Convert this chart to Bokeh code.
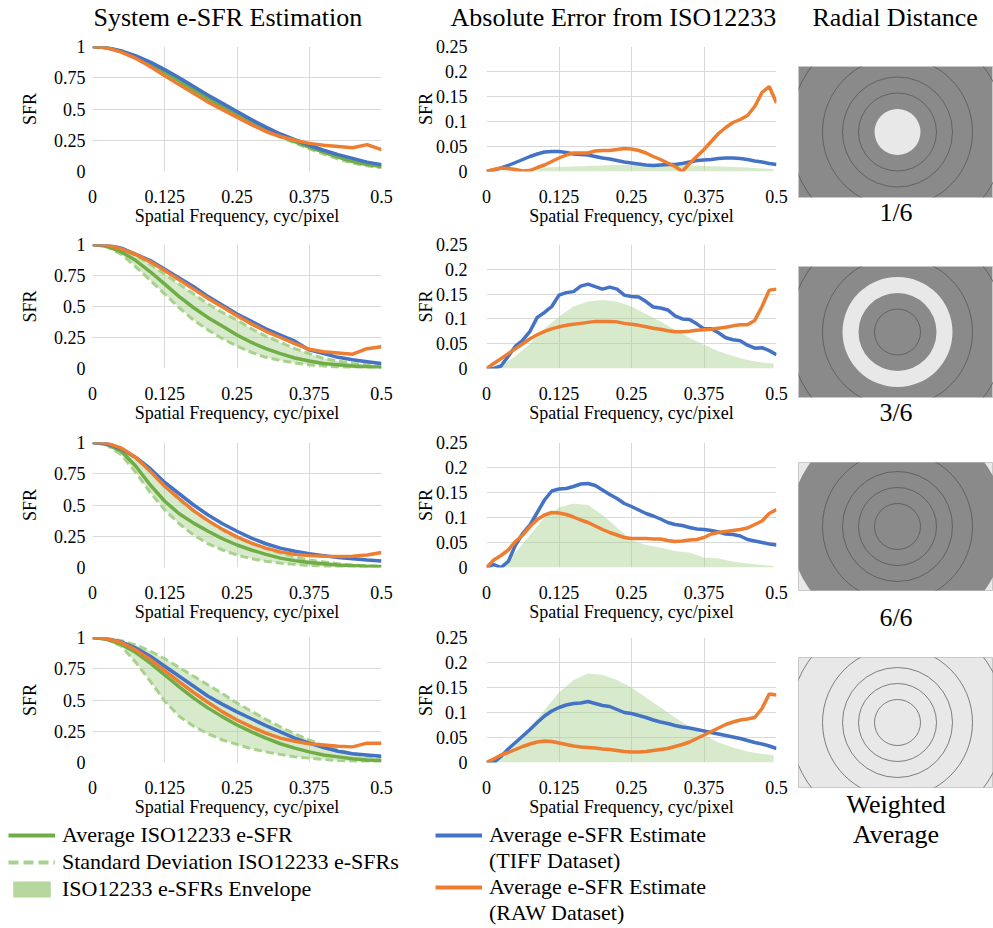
from bokeh.plotting import figure
from bokeh.models import (Range1d, FixedTicker, NumeralTickFormatter, Title,
                          Legend, LegendItem)
from bokeh.layouts import row, column
from bokeh.embed import file_html
from bokeh.resources import INLINE

FONT = "Liberation Serif"
BLUE = "#4472C4"
ORANGE = "#ED7D31"
GREEN = "#70AD47"
LIGHT_GREEN = "#A9D18E"
GRID = "#D9D9D9"
DARK_GRAY = "#8A8A8A"
LIGHT_GRAY = "#E8E8E8"
RING_LINE = "#505050"

# ---------------- data ----------------
freq = [0, 0.025, 0.05, 0.075, 0.1, 0.125, 0.15, 0.175, 0.2, 0.225, 0.25,
        0.275, 0.3, 0.325, 0.35, 0.375, 0.4, 0.425, 0.45, 0.475, 0.5]
freq_fine = [0, 0.0125, 0.025, 0.0375, 0.05, 0.0625, 0.075, 0.0875, 0.1, 0.1125,
             0.125, 0.1375, 0.15, 0.1625, 0.175, 0.1875, 0.2, 0.2125, 0.225, 0.2375,
             0.25, 0.2625, 0.275, 0.2875, 0.3, 0.3125, 0.325, 0.3375, 0.35, 0.3625,
             0.375, 0.3875, 0.4, 0.4125, 0.425, 0.4375, 0.45, 0.4625, 0.475, 0.4875, 0.5]
freq_env = [0, 0.025, 0.05, 0.075, 0.1, 0.125, 0.15, 0.175, 0.2, 0.225, 0.25,
            0.275, 0.3, 0.325, 0.35, 0.375, 0.4, 0.425, 0.45, 0.475, 0.495]

x_ticks = [0, 0.125, 0.25, 0.375, 0.5]
sfr_ticks = [0, 0.25, 0.5, 0.75, 1]
err_ticks = [0, 0.05, 0.1, 0.15, 0.2, 0.25]

column_titles = ["System e-SFR Estimation", "Absolute Error from ISO12233", "Radial Distance"]

# Column 1: system e-SFR estimation (rows = radial distance 1/6, 3/6, 6/6, weighted)
iso_avg_1 = [1.0, 0.99, 0.96, 0.915, 0.86, 0.795, 0.725, 0.655, 0.585, 0.52, 0.455,
             0.39, 0.335, 0.285, 0.24, 0.195, 0.155, 0.115, 0.08, 0.055, 0.04]
iso_hi_1 = [1.0, 0.99, 0.965, 0.925, 0.87, 0.805, 0.735, 0.665, 0.595, 0.53, 0.465,
            0.4, 0.345, 0.295, 0.25, 0.205, 0.165, 0.125, 0.09, 0.065, 0.05]
iso_lo_1 = [1.0, 0.99, 0.955, 0.905, 0.85, 0.785, 0.715, 0.645, 0.575, 0.51, 0.445,
            0.38, 0.325, 0.275, 0.228, 0.182, 0.14, 0.1, 0.068, 0.045, 0.03]
tiff_1 = [1.0, 0.99, 0.965, 0.925, 0.875, 0.815, 0.75, 0.68, 0.61, 0.545, 0.48,
          0.415, 0.355, 0.3, 0.255, 0.21, 0.17, 0.135, 0.105, 0.075, 0.055]
raw_1 = [1.0, 0.99, 0.955, 0.905, 0.84, 0.765, 0.695, 0.625, 0.555, 0.495, 0.435,
         0.375, 0.32, 0.28, 0.25, 0.225, 0.21, 0.2, 0.19, 0.215, 0.175]

iso_avg_2 = [1.0, 0.985, 0.94, 0.87, 0.78, 0.68, 0.58, 0.49, 0.41, 0.34, 0.27,
             0.21, 0.16, 0.12, 0.085, 0.06, 0.04, 0.03, 0.02, 0.015, 0.01]
iso_hi_2 = [1.0, 0.99, 0.96, 0.91, 0.84, 0.76, 0.68, 0.6, 0.52, 0.45, 0.39,
            0.32, 0.26, 0.21, 0.16, 0.12, 0.08, 0.06, 0.04, 0.03, 0.02]
iso_lo_2 = [1.0, 0.98, 0.92, 0.82, 0.71, 0.6, 0.49, 0.39, 0.31, 0.24, 0.18,
            0.13, 0.09, 0.065, 0.045, 0.03, 0.02, 0.01, 0.005, 0.0, 0.0]
tiff_2 = [1.0, 0.995, 0.97, 0.92, 0.87, 0.8, 0.73, 0.66, 0.58, 0.51, 0.44,
          0.38, 0.32, 0.27, 0.22, 0.15, 0.12, 0.09, 0.07, 0.055, 0.04]
raw_2 = [1.0, 0.995, 0.965, 0.92, 0.86, 0.79, 0.715, 0.64, 0.565, 0.495, 0.425,
         0.36, 0.3, 0.25, 0.2, 0.155, 0.135, 0.125, 0.115, 0.16, 0.175]

iso_avg_3 = [1.0, 0.985, 0.93, 0.81, 0.66, 0.53, 0.43, 0.355, 0.29, 0.23, 0.18,
             0.14, 0.105, 0.075, 0.055, 0.04, 0.03, 0.02, 0.015, 0.01, 0.008]
iso_hi_3 = [1.0, 0.99, 0.95, 0.87, 0.77, 0.65, 0.54, 0.45, 0.37, 0.3, 0.24,
            0.19, 0.15, 0.115, 0.085, 0.06, 0.045, 0.03, 0.02, 0.015, 0.01]
iso_lo_3 = [1.0, 0.98, 0.9, 0.76, 0.6, 0.46, 0.35, 0.26, 0.19, 0.14, 0.1,
            0.07, 0.05, 0.035, 0.025, 0.015, 0.01, 0.005, 0.0, 0.0, 0.0]
tiff_3 = [1.0, 0.99, 0.95, 0.88, 0.79, 0.68, 0.59, 0.5, 0.42, 0.35, 0.29,
          0.235, 0.19, 0.155, 0.13, 0.11, 0.095, 0.08, 0.07, 0.06, 0.052]
raw_3 = [1.0, 0.995, 0.955, 0.88, 0.77, 0.65, 0.55, 0.455, 0.375, 0.305, 0.245,
         0.195, 0.155, 0.125, 0.105, 0.095, 0.09, 0.088, 0.09, 0.1, 0.12]

iso_avg_4 = [1.0, 0.985, 0.945, 0.88, 0.795, 0.7, 0.605, 0.515, 0.435, 0.365, 0.3,
             0.245, 0.195, 0.15, 0.115, 0.085, 0.06, 0.045, 0.03, 0.02, 0.015]
iso_hi_4 = [1.0, 0.995, 0.975, 0.94, 0.89, 0.83, 0.76, 0.69, 0.62, 0.55, 0.475,
            0.41, 0.345, 0.285, 0.23, 0.18, 0.135, 0.1, 0.07, 0.05, 0.035]
iso_lo_4 = [1.0, 0.985, 0.93, 0.8, 0.65, 0.49, 0.37, 0.29, 0.23, 0.18, 0.145,
            0.11, 0.085, 0.065, 0.045, 0.035, 0.025, 0.015, 0.01, 0.005, 0.0]
tiff_4 = [1.0, 0.99, 0.965, 0.915, 0.85, 0.77, 0.69, 0.61, 0.53, 0.465, 0.405,
          0.35, 0.295, 0.245, 0.195, 0.155, 0.12, 0.09, 0.07, 0.06, 0.05]
raw_4 = [1.0, 0.99, 0.96, 0.9, 0.825, 0.735, 0.645, 0.56, 0.48, 0.405, 0.34,
         0.285, 0.235, 0.195, 0.17, 0.15, 0.14, 0.13, 0.125, 0.155, 0.155]

# Column 2: absolute error from ISO12233
env_err_1 = [0, 0.002, 0.004, 0.006, 0.008, 0.009, 0.01, 0.011, 0.012, 0.013, 0.013,
             0.013, 0.013, 0.012, 0.012, 0.011, 0.01, 0.009, 0.008, 0.006, 0.005]
tiff_err_1 = [0, 0.003, 0.007, 0.012, 0.018, 0.024, 0.03, 0.035, 0.039, 0.04, 0.04,
              0.038, 0.035, 0.034, 0.033, 0.03, 0.027, 0.025, 0.022, 0.019, 0.017,
              0.015, 0.013, 0.012, 0.013, 0.014, 0.014, 0.016, 0.019, 0.022, 0.023,
              0.024, 0.026, 0.027, 0.027, 0.026, 0.024, 0.021, 0.019, 0.016, 0.014]
raw_err_1 = [0, 0.004, 0.007, 0.006, 0.004, 0.001, 0.002, 0.008, 0.013, 0.02, 0.027,
             0.033, 0.037, 0.037, 0.037, 0.041, 0.042, 0.042, 0.044, 0.046, 0.045,
             0.042, 0.037, 0.03, 0.024, 0.017, 0.01, 0.0, 0.016, 0.03, 0.044,
             0.06, 0.076, 0.088, 0.098, 0.104, 0.112, 0.13, 0.158, 0.17, 0.137]

env_err_2 = [0, 0.005, 0.025, 0.05, 0.08, 0.105, 0.125, 0.135, 0.138, 0.135, 0.125,
             0.11, 0.095, 0.078, 0.062, 0.048, 0.035, 0.025, 0.017, 0.012, 0.01]
tiff_err_2 = [0, 0.0, 0.005, 0.025, 0.045, 0.057, 0.075, 0.103, 0.113, 0.125, 0.148,
              0.153, 0.155, 0.166, 0.17, 0.165, 0.16, 0.164, 0.16, 0.148, 0.145,
              0.144, 0.135, 0.124, 0.122, 0.118, 0.106, 0.1, 0.099, 0.09, 0.08,
              0.08, 0.072, 0.062, 0.058, 0.056, 0.047, 0.041, 0.042, 0.036, 0.028]
raw_err_2 = [0, 0.01, 0.02, 0.03, 0.04, 0.05, 0.06, 0.068, 0.075, 0.08, 0.084,
             0.087, 0.089, 0.091, 0.093, 0.095, 0.095, 0.095, 0.094, 0.091, 0.089,
             0.087, 0.084, 0.081, 0.079, 0.076, 0.074, 0.074, 0.075, 0.077, 0.078,
             0.079, 0.081, 0.083, 0.086, 0.088, 0.088, 0.097, 0.125, 0.158, 0.16]

env_err_3 = [0, 0.005, 0.03, 0.065, 0.1, 0.12, 0.128, 0.125, 0.105, 0.08, 0.055,
             0.045, 0.04, 0.033, 0.03, 0.02, 0.018, 0.012, 0.008, 0.005, 0.003]
tiff_err_3 = [0, 0.006, 0.0, 0.012, 0.045, 0.068, 0.085, 0.11, 0.135, 0.153, 0.157,
              0.158, 0.162, 0.167, 0.168, 0.164, 0.155, 0.146, 0.138, 0.128, 0.122,
              0.115, 0.108, 0.103, 0.097, 0.09, 0.086, 0.084, 0.08, 0.077, 0.076,
              0.074, 0.071, 0.067, 0.066, 0.063, 0.056, 0.053, 0.05, 0.047, 0.045]
raw_err_3 = [0, 0.015, 0.024, 0.035, 0.052, 0.065, 0.082, 0.096, 0.105, 0.11, 0.109,
             0.106, 0.101, 0.095, 0.09, 0.083, 0.076, 0.07, 0.065, 0.06, 0.058,
             0.058, 0.058, 0.057, 0.057, 0.054, 0.052, 0.053, 0.055, 0.056, 0.06,
             0.067, 0.07, 0.072, 0.074, 0.076, 0.079, 0.086, 0.093, 0.108, 0.116]

env_err_4 = [0, 0.008, 0.035, 0.07, 0.105, 0.14, 0.165, 0.178, 0.175, 0.165, 0.15,
             0.13, 0.11, 0.09, 0.072, 0.055, 0.04, 0.03, 0.022, 0.017, 0.015]
tiff_err_4 = [0, 0.0, 0.012, 0.027, 0.04, 0.053, 0.066, 0.08, 0.093, 0.103, 0.11,
              0.115, 0.118, 0.119, 0.122, 0.118, 0.114, 0.112, 0.106, 0.1, 0.098,
              0.094, 0.09, 0.085, 0.081, 0.078, 0.074, 0.071, 0.069, 0.066, 0.063,
              0.06, 0.057, 0.054, 0.051, 0.048, 0.044, 0.04, 0.037, 0.033, 0.028]
raw_err_4 = [0, 0.007, 0.015, 0.02, 0.026, 0.032, 0.037, 0.041, 0.043, 0.042, 0.039,
             0.036, 0.033, 0.031, 0.03, 0.029, 0.027, 0.026, 0.024, 0.022, 0.021,
             0.021, 0.022, 0.024, 0.026, 0.028, 0.032, 0.036, 0.041, 0.048, 0.055,
             0.062, 0.069, 0.076, 0.081, 0.085, 0.087, 0.09, 0.108, 0.137, 0.135]

# Column 3: radial distance zones (ring boundaries, image units)
ring_radii = [23, 39, 55, 75, 108]
zone_labels = ["1/6", "3/6", "6/6", "Weighted Average"]

# ---------------- layout constants ----------------
TITLE_H = 36
# per row: (top border, frame height, bottom border)
row_geom = [(10, 125, 60), (13, 124, 60), (14, 125, 59), (11, 125, 58)]
img_geom = [(30, 131, 35), (34, 131, 35), (30, 130, 49), (16, 130, 63)]
img_label_standoff = [-4, -4, 20, 0]


def base_style(p, yticks, ylab_standoff, yaxis_label_standoff):
    p.xaxis.ticker = FixedTicker(ticks=x_ticks)
    p.yaxis.ticker = FixedTicker(ticks=yticks)
    p.axis.formatter = NumeralTickFormatter(format="0.[000]")
    p.axis.axis_line_color = None
    p.axis.major_tick_line_color = None
    p.axis.minor_tick_line_color = None
    p.axis.major_tick_out = 0
    p.axis.major_tick_in = 0
    p.axis.major_label_text_font = FONT
    p.axis.major_label_text_font_size = "18px"
    p.axis.major_label_text_color = "#000000"
    p.axis.axis_label_text_font = FONT
    p.axis.axis_label_text_font_size = "18px"
    p.axis.axis_label_text_font_style = "normal"
    p.axis.axis_label_text_color = "#000000"
    p.xaxis.axis_label = "Spatial Frequency, cyc/pixel"
    p.xaxis.major_label_standoff = 18
    p.xaxis.axis_label_standoff = 0
    p.yaxis.axis_label = "SFR"
    p.yaxis.major_label_standoff = ylab_standoff
    p.yaxis.axis_label_standoff = yaxis_label_standoff
    p.grid.grid_line_color = GRID
    p.grid.grid_line_width = 1
    p.outline_line_color = None


def make_fig(width, geom, left, right, y_end):
    top, fh, bottom = geom
    return figure(width=width, height=top + fh + bottom,
                  x_range=Range1d(0, 0.5), y_range=Range1d(0, y_end),
                  min_border_left=left, min_border_right=right,
                  min_border_top=top, min_border_bottom=bottom,
                  toolbar_location=None, tools="", output_backend="svg")


def title_fig(text, width, left, right, offset):
    t = figure(width=width, height=TITLE_H, x_range=Range1d(0, 1), y_range=Range1d(0, 1),
               x_axis_type=None, y_axis_type=None,
               min_border_left=left, min_border_right=right,
               min_border_top=0, min_border_bottom=0,
               toolbar_location=None, tools="", output_backend="svg")
    t.outline_line_color = None
    t.title.text = text
    t.title.text_font = FONT
    t.title.text_font_size = "26px"
    t.title.text_font_style = "normal"
    t.title.text_color = "#000000"
    t.title.align = "left"
    t.title.offset = offset
    t.title.standoff = 0
    return t


sfr_rows = [
    (iso_avg_1, iso_hi_1, iso_lo_1, tiff_1, raw_1),
    (iso_avg_2, iso_hi_2, iso_lo_2, tiff_2, raw_2),
    (iso_avg_3, iso_hi_3, iso_lo_3, tiff_3, raw_3),
    (iso_avg_4, iso_hi_4, iso_lo_4, tiff_4, raw_4),
]
err_rows = [
    (env_err_1, tiff_err_1, raw_err_1),
    (env_err_2, tiff_err_2, raw_err_2),
    (env_err_3, tiff_err_3, raw_err_3),
    (env_err_4, tiff_err_4, raw_err_4),
]

LW = 3.5

col1 = [title_fig(column_titles[0], 400, 92, 19, 1)]
for i, (avg, hi, lo, tiff, raw) in enumerate(sfr_rows):
    p = make_fig(400, row_geom[i], 92, 19, 1)
    base_style(p, sfr_ticks, 7, 11)
    p.varea(x=freq, y1=lo, y2=hi, fill_color=LIGHT_GREEN, fill_alpha=0.45)
    p.line(freq, hi, line_color=LIGHT_GREEN, line_width=3, line_dash="8 4")
    p.line(freq, lo, line_color=LIGHT_GREEN, line_width=3, line_dash="8 4")
    p.line(freq, avg, line_color=GREEN, line_width=LW)
    p.line(freq, tiff, line_color=BLUE, line_width=LW)
    p.line(freq, raw, line_color=ORANGE, line_width=LW)
    col1.append(p)

col2 = [title_fig(column_titles[1], 397, 86, 21, -36)]
for i, (env, tiff, raw) in enumerate(err_rows):
    p = make_fig(397, row_geom[i], 86, 21, 0.25)
    base_style(p, err_ticks, 19, -3)
    p.varea(x=freq_env, y1=[0] * len(env), y2=env, fill_color=LIGHT_GREEN, fill_alpha=0.45)
    p.line(freq_fine, tiff, line_color=BLUE, line_width=LW)
    p.line(freq_fine, raw, line_color=ORANGE, line_width=LW)
    col2.append(p)

# ---------------- radial distance images ----------------
col3 = [title_fig(column_titles[2], 196, 1, 0, 14)]
for i, lab in enumerate(zone_labels):
    top, fh, bottom = img_geom[i]
    p = figure(width=196, height=top + fh + bottom,
               x_range=Range1d(-99, 96), y_range=Range1d(-fh / 2, fh / 2),
               min_border_left=1, min_border_right=0,
               min_border_top=top, min_border_bottom=bottom,
               x_axis_type=None, y_axis_type=None,
               toolbar_location=None, tools="", output_backend="svg")
    p.outline_line_color = "#C8C8C8"
    if i == 0:
        p.background_fill_color = DARK_GRAY
        p.circle(x=[0], y=[0], radius=[ring_radii[0]], fill_color=LIGHT_GRAY, line_color=None)
        line_r = ring_radii[1:]
    elif i == 1:
        p.background_fill_color = DARK_GRAY
        p.annulus(x=[0], y=[0], inner_radius=[ring_radii[1]], outer_radius=[ring_radii[2]],
                  fill_color=LIGHT_GRAY, line_color=None)
        line_r = [ring_radii[0], ring_radii[3], ring_radii[4]]
    elif i == 2:
        p.background_fill_color = LIGHT_GRAY
        p.circle(x=[0], y=[0], radius=[ring_radii[4]], fill_color=DARK_GRAY, line_color=None)
        line_r = ring_radii[:4]
    else:
        p.background_fill_color = LIGHT_GRAY
        line_r = ring_radii
    p.circle(x=[0] * len(line_r), y=[0] * len(line_r), radius=line_r,
             fill_color=None, line_color=RING_LINE, line_width=0.7)
    parts = lab.split(" ") if i == 3 else [lab]
    for k, part in enumerate(parts):
        so = img_label_standoff[i] if k == 0 else -2
        p.add_layout(Title(text=part, align="center", text_font=FONT,
                           text_font_size="26px", text_font_style="normal",
                           text_color="#000000", standoff=so), "below")
    col3.append(p)

# ---------------- legend ----------------
leg = figure(width=797, height=108, x_range=Range1d(0, 1), y_range=Range1d(0, 1),
             x_axis_type=None, y_axis_type=None, min_border=0,
             toolbar_location=None, tools="", output_backend="svg")
leg.outline_line_color = None
off = [5, 6]  # helper renderers kept outside the visible range (legend glyphs only)
r_avg = leg.line(x=off, y=off, line_color=GREEN, line_width=4)
r_std = leg.line(x=off, y=off, line_color=LIGHT_GREEN, line_width=4, line_dash="10 5")
r_env = leg.varea(x=off, y1=off, y2=off, fill_color=LIGHT_GREEN, fill_alpha=0.85)
r_tiff = leg.line(x=off, y=off, line_color=BLUE, line_width=4)
r_raw = leg.line(x=off, y=off, line_color=ORANGE, line_width=4)
r_none = leg.line(x=off, y=off, line_alpha=0)

common = dict(label_text_font=FONT, label_text_font_size="22px", label_text_color="#000000",
              glyph_height=20, glyph_width=47, label_standoff=7, spacing=0, padding=0,
              margin=0, border_line_color=None, background_fill_alpha=0)
legend1 = Legend(items=[LegendItem(label="Average ISO12233 e-SFR", renderers=[r_avg]),
                        LegendItem(label="Standard Deviation ISO12233 e-SFRs", renderers=[r_std]),
                        LegendItem(label="ISO12233 e-SFRs Envelope", renderers=[r_env])],
                 location=(8, 26), label_height=27, **common)
legend2 = Legend(items=[LegendItem(label="Average e-SFR Estimate", renderers=[r_tiff]),
                        LegendItem(label="(TIFF Dataset)", renderers=[r_none]),
                        LegendItem(label="Average e-SFR Estimate ", renderers=[r_raw]),
                        LegendItem(label="(RAW Dataset) ", renderers=[r_none])],
                 location=(435, 2), label_height=26, **common)
leg.add_layout(legend1)
leg.add_layout(legend2)

layout = row(column(row(column(*col1), column(*col2)), leg), column(*col3))

open("out.html", "w").write(file_html(layout, INLINE))
